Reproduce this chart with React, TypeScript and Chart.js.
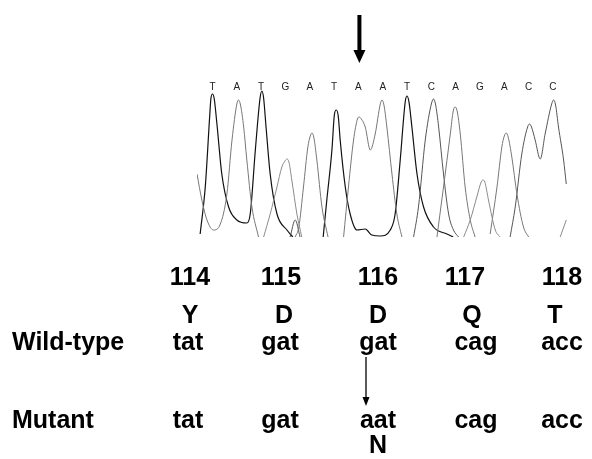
import { useEffect, useRef } from 'react';
import { Chart, registerables } from 'chart.js';

Chart.register(...registerables);

// ---- data ----
const bases = ['T', 'A', 'T', 'G', 'A', 'T', 'A', 'A', 'T', 'C', 'A', 'G', 'A', 'C', 'C'];
const mutatedBasePosition = 7;

const codonNumbers = ['114', '115', '116', '117', '118'];
const wildTypeAminoAcids = ['Y', 'D', 'D', 'Q', 'T'];
const wildTypeCodons = ['tat', 'gat', 'gat', 'cag', 'acc'];
const mutantCodons = ['tat', 'gat', 'aat', 'cag', 'acc'];
const mutantAminoAcids = ['', '', 'N', '', ''];
const rowLabels = ['Wild-type', 'Mutant'];
const mutatedCodonIndex = 2;

// trace points: [base position, signal], null = gap
const traceT: (number[] | null)[] = [
  [0.49, 3], [0.7, 50], [0.88, 120], [0.93, 138], [1.0, 143], [1.07, 138], [1.18, 113], [1.38, 63],
  [1.66, 30], [2.0, 17], [2.41, 14], [2.55, 23], [2.76, 87], [2.96, 140], [3.03, 146], [3.1, 139],
  [3.2, 110], [3.37, 63], [3.65, 23], [4.06, 7], [4.3, 0], null,
  [5.55, 0], [5.7, 37], [5.91, 87], [6.01, 122], [6.09, 127], [6.17, 121], [6.25, 97], [6.46, 50],
  [6.66, 23], [6.94, 7], [7.28, 8], [7.55, 2], [7.9, 1], [8.31, 7], [8.51, 23], [8.72, 77],
  [8.93, 136], [9.0, 141], [9.08, 135], [9.2, 110], [9.41, 63], [9.68, 30], [10.09, 10], [10.64, 3],
  [10.9, 0],
];
const traceA: (number[] | null)[] = [
  [0.36, 63], [0.56, 37], [0.77, 17], [1.04, 7], [1.32, 13], [1.59, 43], [1.8, 97], [2.0, 133],
  [2.07, 137], [2.15, 132], [2.28, 110], [2.41, 77], [2.62, 30], [2.89, 0], null,
  [4.4, 0], [4.55, 10], [4.74, 50], [4.92, 90], [5.02, 101], [5.09, 104], [5.17, 99], [5.29, 77],
  [5.5, 30], [5.75, 0], null,
  [6.39, 0], [6.59, 50], [6.8, 97], [6.96, 118], [7.03, 120], [7.12, 118], [7.28, 110], [7.49, 87],
  [7.69, 103], [7.9, 133], [7.97, 137], [8.05, 132], [8.17, 110], [8.38, 63], [8.58, 23], [8.79, 0], null,
  [10.23, 0], [10.5, 50], [10.78, 103], [10.9, 126], [10.98, 130], [11.06, 126], [11.19, 103],
  [11.39, 50], [11.6, 17], [11.8, 0], null,
  [12.42, 3], [12.7, 50], [12.9, 90], [13.0, 101], [13.08, 104], [13.16, 100], [13.31, 80],
  [13.52, 43], [13.79, 10], [14.0, 0],
];
const traceC: (number[] | null)[] = [
  [4.19, 0], [4.4, 17], [4.6, 0], null,
  [9.27, 0], [9.47, 30], [9.75, 97], [10.01, 134], [10.09, 138], [10.17, 133], [10.3, 110],
  [10.5, 63], [10.71, 23], [10.91, 7], [11.12, 0], null,
  [13.24, 0], [13.45, 30], [13.72, 83], [13.96, 110], [14.04, 113], [14.12, 110], [14.27, 97],
  [14.48, 78], [14.68, 103], [14.95, 133], [15.03, 137], [15.11, 132], [15.23, 110], [15.44, 77],
  [15.55, 53],
];
const traceG: (number[] | null)[] = [
  [3.1, 0], [3.37, 23], [3.65, 50], [3.85, 70], [3.98, 76], [4.06, 78], [4.14, 75], [4.26, 57],
  [4.47, 23], [4.67, 0], null,
  [11.33, 0], [11.6, 17], [11.87, 40], [12.05, 55], [12.12, 57], [12.2, 55], [12.35, 37],
  [12.63, 7], [12.83, 0], null,
  [15.3, 0], [15.55, 17],
];

// ---- layout ----
const W = 592;
const H = 459;
const FONT = '"Liberation Sans", Arial, Helvetica, sans-serif';
const numberX = [190, 281, 378, 465, 562];
const aminoX = [190, 284, 378, 472, 555];
const codonX = [188, 280, 378, 476, 562];

const toPoints = (arr: (number[] | null)[]) => {
  const out: { x: number; y: number | null }[] = [];
  arr.forEach((p, i) => {
    if (p) out.push({ x: p[0], y: p[1] });
    else {
      const prev = arr[i - 1] as number[];
      const next = arr[i + 1] as number[];
      out.push({ x: (prev[0] + next[0]) / 2, y: null });
    }
  });
  return out;
};

const annotations = {
  id: 'annotations',
  afterDraw(chart: any) {
    const ctx = chart.ctx as CanvasRenderingContext2D;
    const xs = chart.scales.x;
    ctx.save();
    // base calls
    ctx.font = `10px ${FONT}`;
    ctx.fillStyle = '#222';
    ctx.textAlign = 'center';
    ctx.textBaseline = 'middle';
    bases.forEach((b, i) => ctx.fillText(b, xs.getPixelForValue(i + 1), 87));

    // big arrow
    const ax = xs.getPixelForValue(mutatedBasePosition) + 1;
    ctx.fillStyle = '#000';
    ctx.fillRect(ax - 2, 15, 4, 37);
    ctx.beginPath();
    ctx.moveTo(ax - 6, 50);
    ctx.lineTo(ax + 6, 50);
    ctx.lineTo(ax, 63);
    ctx.closePath();
    ctx.fill();

    // table
    ctx.font = `bold 25px ${FONT}`;
    ctx.textBaseline = 'alphabetic';
    ctx.textAlign = 'left';
    ctx.fillText(rowLabels[0], 12, 350);
    ctx.fillText(rowLabels[1], 12, 428);
    ctx.textAlign = 'center';
    codonNumbers.forEach((t, i) => ctx.fillText(t, numberX[i], 285));
    wildTypeAminoAcids.forEach((t, i) => ctx.fillText(t, aminoX[i], 323));
    wildTypeCodons.forEach((t, i) => ctx.fillText(t, codonX[i], 350));
    mutantCodons.forEach((t, i) => ctx.fillText(t, codonX[i], 428));
    mutantAminoAcids.forEach((t, i) => {
      if (t) ctx.fillText(t, codonX[i], 453);
    });

    // small arrow under mutated codon
    const sx = codonX[mutatedCodonIndex] - 12;
    ctx.strokeStyle = '#000';
    ctx.lineWidth = 1.3;
    ctx.beginPath();
    ctx.moveTo(sx, 357);
    ctx.lineTo(sx, 399);
    ctx.stroke();
    ctx.beginPath();
    ctx.moveTo(sx - 3.5, 397);
    ctx.lineTo(sx + 3.5, 397);
    ctx.lineTo(sx, 406);
    ctx.closePath();
    ctx.fill();
    ctx.restore();
  },
};

export default function App() {
  const ref = useRef<HTMLCanvasElement>(null);
  useEffect(() => {
    if (!ref.current) return;
    const mk = (label: string, data: (number[] | null)[], color: string, width: number) => ({
      label,
      data: toPoints(data),
      borderColor: color,
      borderWidth: width,
      pointRadius: 0,
      fill: false,
      cubicInterpolationMode: 'monotone' as const,
      spanGaps: false,
    });
    const chart = new Chart(ref.current, {
      type: 'line',
      data: {
        datasets: [
          mk('G', traceG, '#8a8a8a', 1),
          mk('A', traceA, '#777777', 1),
          mk('C', traceC, '#555555', 1),
          mk('T', traceT, '#111111', 1.2),
        ],
      },
      options: {
        animation: false,
        responsive: false,
        devicePixelRatio: 1,
        layout: { padding: { left: 197, right: 25, top: 90, bottom: 222 } },
        scales: {
          x: { type: 'linear', min: 0.36, max: 15.58, display: false },
          y: { type: 'linear', min: 0, max: 147, display: false },
        },
        plugins: { legend: { display: false }, tooltip: { enabled: false } },
        events: [],
      },
      plugins: [annotations],
    });
    return () => chart.destroy();
  }, []);
  return (
    <div style={{ position: 'fixed', left: 0, top: 0, width: W, height: H, background: '#fff' }}>
      <canvas ref={ref} width={W} height={H} style={{ display: 'block', width: W, height: H }} />
    </div>
  );
}
